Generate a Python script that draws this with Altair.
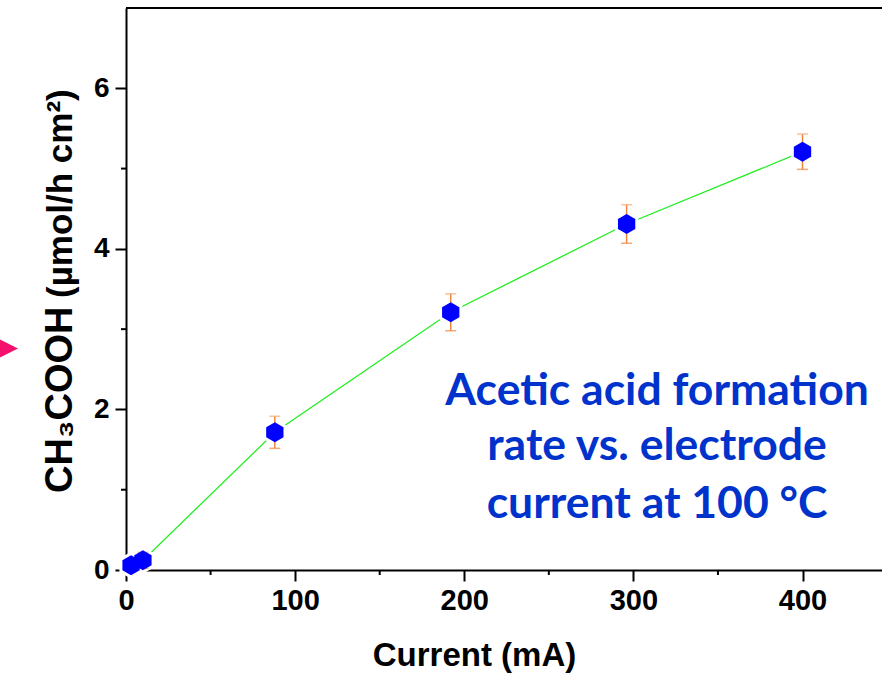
import altair as alt
import pandas as pd

# ---- data ----
current = [3, 10, 88, 192, 296, 400]
rate = [0.06, 0.12, 1.715, 3.21, 4.31, 5.21]
err = [0.08, 0.10, 0.20, 0.23, 0.24, 0.22]

x_major = [0, 100, 200, 300, 400]
y_major = [0, 2, 4, 6]
x_minor = [50, 150, 250, 350]
y_minor = [1, 3, 5]

note_lines = ["Acetic acid formation", "rate vs. electrode", "current at 100 °C"]
note_y = [2.055, 1.37, 0.648]
note_x = [314, 314, 314]

arrow_x = [-72.7]
arrow_y = [2.76]

df = pd.DataFrame({
    "current": current,
    "rate": rate,
    "lo": [r - e for r, e in zip(rate, err)],
    "hi": [r + e for r, e in zip(rate, err)],
})
notes = pd.DataFrame({"text": note_lines, "x": note_x, "y": note_y})
xminor_df = pd.DataFrame({"v": x_minor})
yminor_df = pd.DataFrame({"v": y_minor})
top_df = pd.DataFrame({"v": [7]})
arrow_df = pd.DataFrame({"x": arrow_x, "y": arrow_y})

W, H = 756, 562
xscale = alt.Scale(domain=[0, 447], nice=False, zero=False)
yscale = alt.Scale(domain=[0, 7], nice=False, zero=False)

HEX = "M0,-1L0.866,-0.5L0.866,0.5L0,1L-0.866,0.5L-0.866,-0.5Z"
TRI = "M-1,-1L1,0L-1,1Z"
FONT = "Liberation Sans"

x_axis = alt.Axis(values=x_major, format="d", grid=False, labelFlush=False,
                  labelFont=FONT, labelFontWeight="bold", labelFontSize=29, labelColor="black",
                  tickSize=11, tickWidth=2, tickColor="black",
                  domainWidth=2, domainColor="black", labelPadding=5,
                  title="Current (mA)", titleFont=FONT, titleFontWeight="bold",
                  titleFontSize=33, titleColor="black", titleX=348, titleY=95,
                  titleBaseline="alphabetic", titleAlign="center")
y_axis = alt.Axis(values=y_major, format="d", grid=False, labelFlush=False,
                  labelFont=FONT, labelFontWeight="bold", labelFontSize=28, labelColor="black",
                  tickSize=11, tickWidth=2, tickColor="black",
                  domainWidth=2, domainColor="black", labelPadding=6, title="")


def X(field):
    return alt.X(field, scale=xscale, axis=x_axis)


def Y(field):
    return alt.Y(field, scale=yscale, axis=y_axis)


base = alt.Chart(df)

line = base.mark_line(color="#22EE22", strokeWidth=1.3).encode(
    x=X("current:Q"), y=Y("rate:Q"),
)

halo = base.mark_point(shape=HEX, filled=True, fill="white", stroke="white",
                       strokeWidth=6, size=400, opacity=1).encode(
    x=X("current:Q"), y=Y("rate:Q"),
)

ebar = base.mark_rule(color="#F0843A", strokeWidth=1.5).encode(
    x=X("current:Q"), y=Y("lo:Q"), y2="hi:Q",
)
cap_lo = base.mark_tick(color="#F0843A", thickness=1.5, size=11, orient="horizontal").encode(
    x=X("current:Q"), y=Y("lo:Q"),
)
cap_hi = base.mark_tick(color="#F5A870", thickness=1.5, size=11, orient="horizontal").encode(
    x=X("current:Q"), y=Y("hi:Q"),
)

points = base.mark_point(shape=HEX, filled=True, color="#0000FF", size=400, opacity=1).encode(
    x=X("current:Q"), y=Y("rate:Q"),
)

top_border = alt.Chart(top_df).mark_rule(color="black", strokeWidth=2).encode(
    y=Y("v:Q"),
)

xminor = alt.Chart(xminor_df).mark_rule(color="black", strokeWidth=2).encode(
    x=X("v:Q"), y=alt.value(H), y2=alt.value(H + 5),
)
yminor = alt.Chart(yminor_df).mark_rule(color="black", strokeWidth=2).encode(
    y=Y("v:Q"), x=alt.value(-5), x2=alt.value(0),
)

note = alt.Chart(notes).mark_text(font="Lato", fontWeight="bold", fontSize=44.5,
                                  color="#0033CC", align="center", baseline="alphabetic").encode(
    x=X("x:Q"), y=Y("y:Q"), text="text:N",
)

ytitle1 = alt.Chart(top_df).mark_text(text="CH₃COOH", font=FONT, fontWeight="bold", fontSize=38,
                                      color="black", angle=270, align="left",
                                      baseline="alphabetic").encode(
    x=alt.value(-54), y=alt.value(485),
)
ytitle2 = alt.Chart(top_df).mark_text(text="(µmol/h cm²)", font=FONT, fontWeight="bold", fontSize=35,
                                      color="black", angle=270, align="left",
                                      baseline="alphabetic").encode(
    x=alt.value(-54), y=alt.value(290),
)

arrow = alt.Chart(arrow_df).mark_point(shape=TRI, filled=True, color="#F5106E",
                                       size=900, opacity=1).encode(
    x=X("x:Q"), y=Y("y:Q"),
)

chart = alt.layer(
    line, top_border, xminor, yminor, halo, ebar, cap_lo, cap_hi, points,
    note, ytitle1, ytitle2, arrow,
).properties(
    width=W, height=H,
    autosize=alt.AutoSizeParams(type="none"),
    padding={"left": 126, "top": 8, "right": 0, "bottom": 109},
    background="white",
).configure_view(stroke=None)

chart.save("out.html", embed_options={"renderer": "svg", "actions": False})
